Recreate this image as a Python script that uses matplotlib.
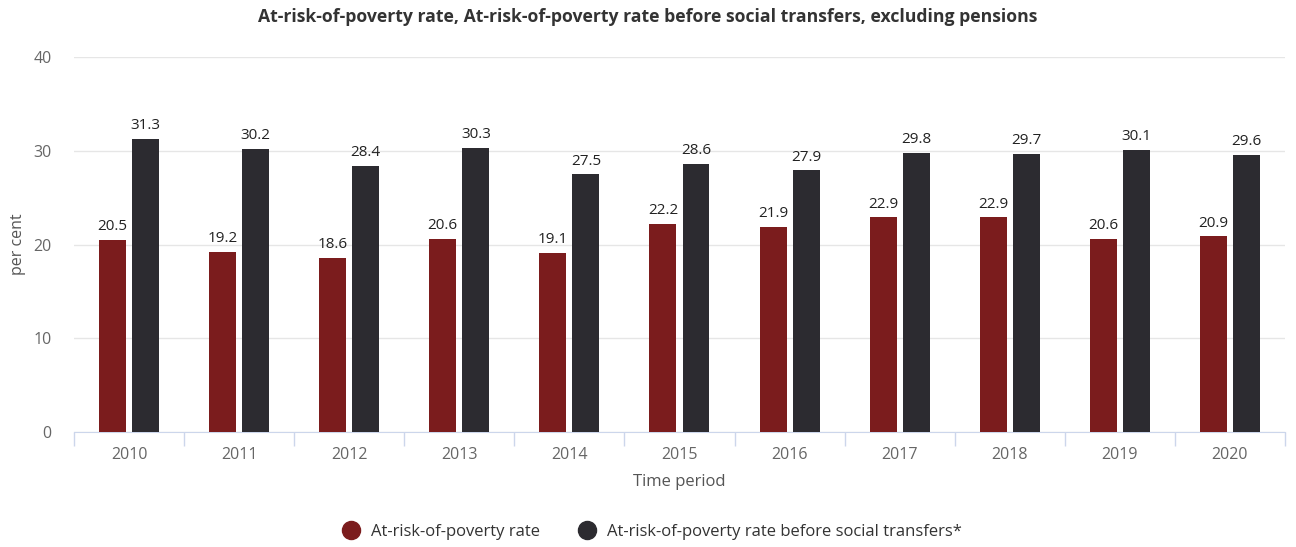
import matplotlib.pyplot as plt
import numpy as np

plt.rcParams['font.family'] = ['Open Sans', 'DejaVu Sans']

years = ['2010', '2011', '2012', '2013', '2014', '2015', '2016', '2017', '2018', '2019', '2020']
rate = [20.5, 19.2, 18.6, 20.6, 19.1, 22.2, 21.9, 22.9, 22.9, 20.6, 20.9]
rate_before = [31.3, 30.2, 28.4, 30.3, 27.5, 28.6, 27.9, 29.8, 29.7, 30.1, 29.6]

red = '#7b1c1d'
dark = '#2c2b30'

fig = plt.figure(figsize=(12.96, 5.47), dpi=100)
ax = fig.add_axes([0.0571, 0.2102, 0.9344, 0.6856])

x = np.arange(len(years))
w = 0.245
b1 = ax.bar(x - 0.15, rate, w, color=red, label='At-risk-of-poverty rate', zorder=3)
b2 = ax.bar(x + 0.15, rate_before, w, color=dark,
            label='At-risk-of-poverty rate before social transfers*', zorder=3)

for bars, vals in ((b1, rate), (b2, rate_before)):
    for bar, v in zip(bars, vals):
        ax.annotate(f'{v:.1f}', (bar.get_x() + bar.get_width() / 2, v),
                    xytext=(0, 4), textcoords='offset points',
                    ha='center', va='bottom', fontsize=11, color='#222222')

ax.set_xlim(-0.5, len(years) - 0.5)
ax.set_ylim(0, 40)
ax.set_yticks([0, 10, 20, 30, 40])
ax.grid(axis='y', color='#e6e6e6', linewidth=1, zorder=0)

ax.set_xticks(x)
ax.set_xticklabels(years)
ax.set_xticks(np.arange(-0.5, len(years)), minor=True)
ax.tick_params(axis='x', which='major', length=0, pad=11, labelsize=11.5, labelcolor='#666666')
ax.tick_params(axis='x', which='minor', length=10, color='#ccd6eb', width=1)
ax.tick_params(axis='y', length=0, pad=16, labelsize=11.5, labelcolor='#666666')

for s in ('top', 'right', 'left'):
    ax.spines[s].set_visible(False)
ax.spines['bottom'].set_color('#ccd6eb')

ax.set_xlabel('Time period', fontsize=12, color='#555555', labelpad=8)
ax.set_ylabel('per cent', fontsize=11.5, color='#555555')
ax.yaxis.set_label_coords(-0.04, 0.5)

fig.suptitle('At-risk-of-poverty rate, At-risk-of-poverty rate before social transfers, excluding pensions',
             y=0.985, fontsize=12.7, fontweight='bold', color='#333333')

handles = [plt.Line2D([], [], marker='o', ls='', markersize=13, color=c) for c in (red, dark)]
fig.legend(handles, [b1.get_label(), b2.get_label()], loc='lower center',
           bbox_to_anchor=(0.5, -0.015), ncol=2, frameon=False, fontsize=12,
           handletextpad=0.2, columnspacing=1.8, labelcolor='#333333')

fig.savefig('out.png', dpi=100)
